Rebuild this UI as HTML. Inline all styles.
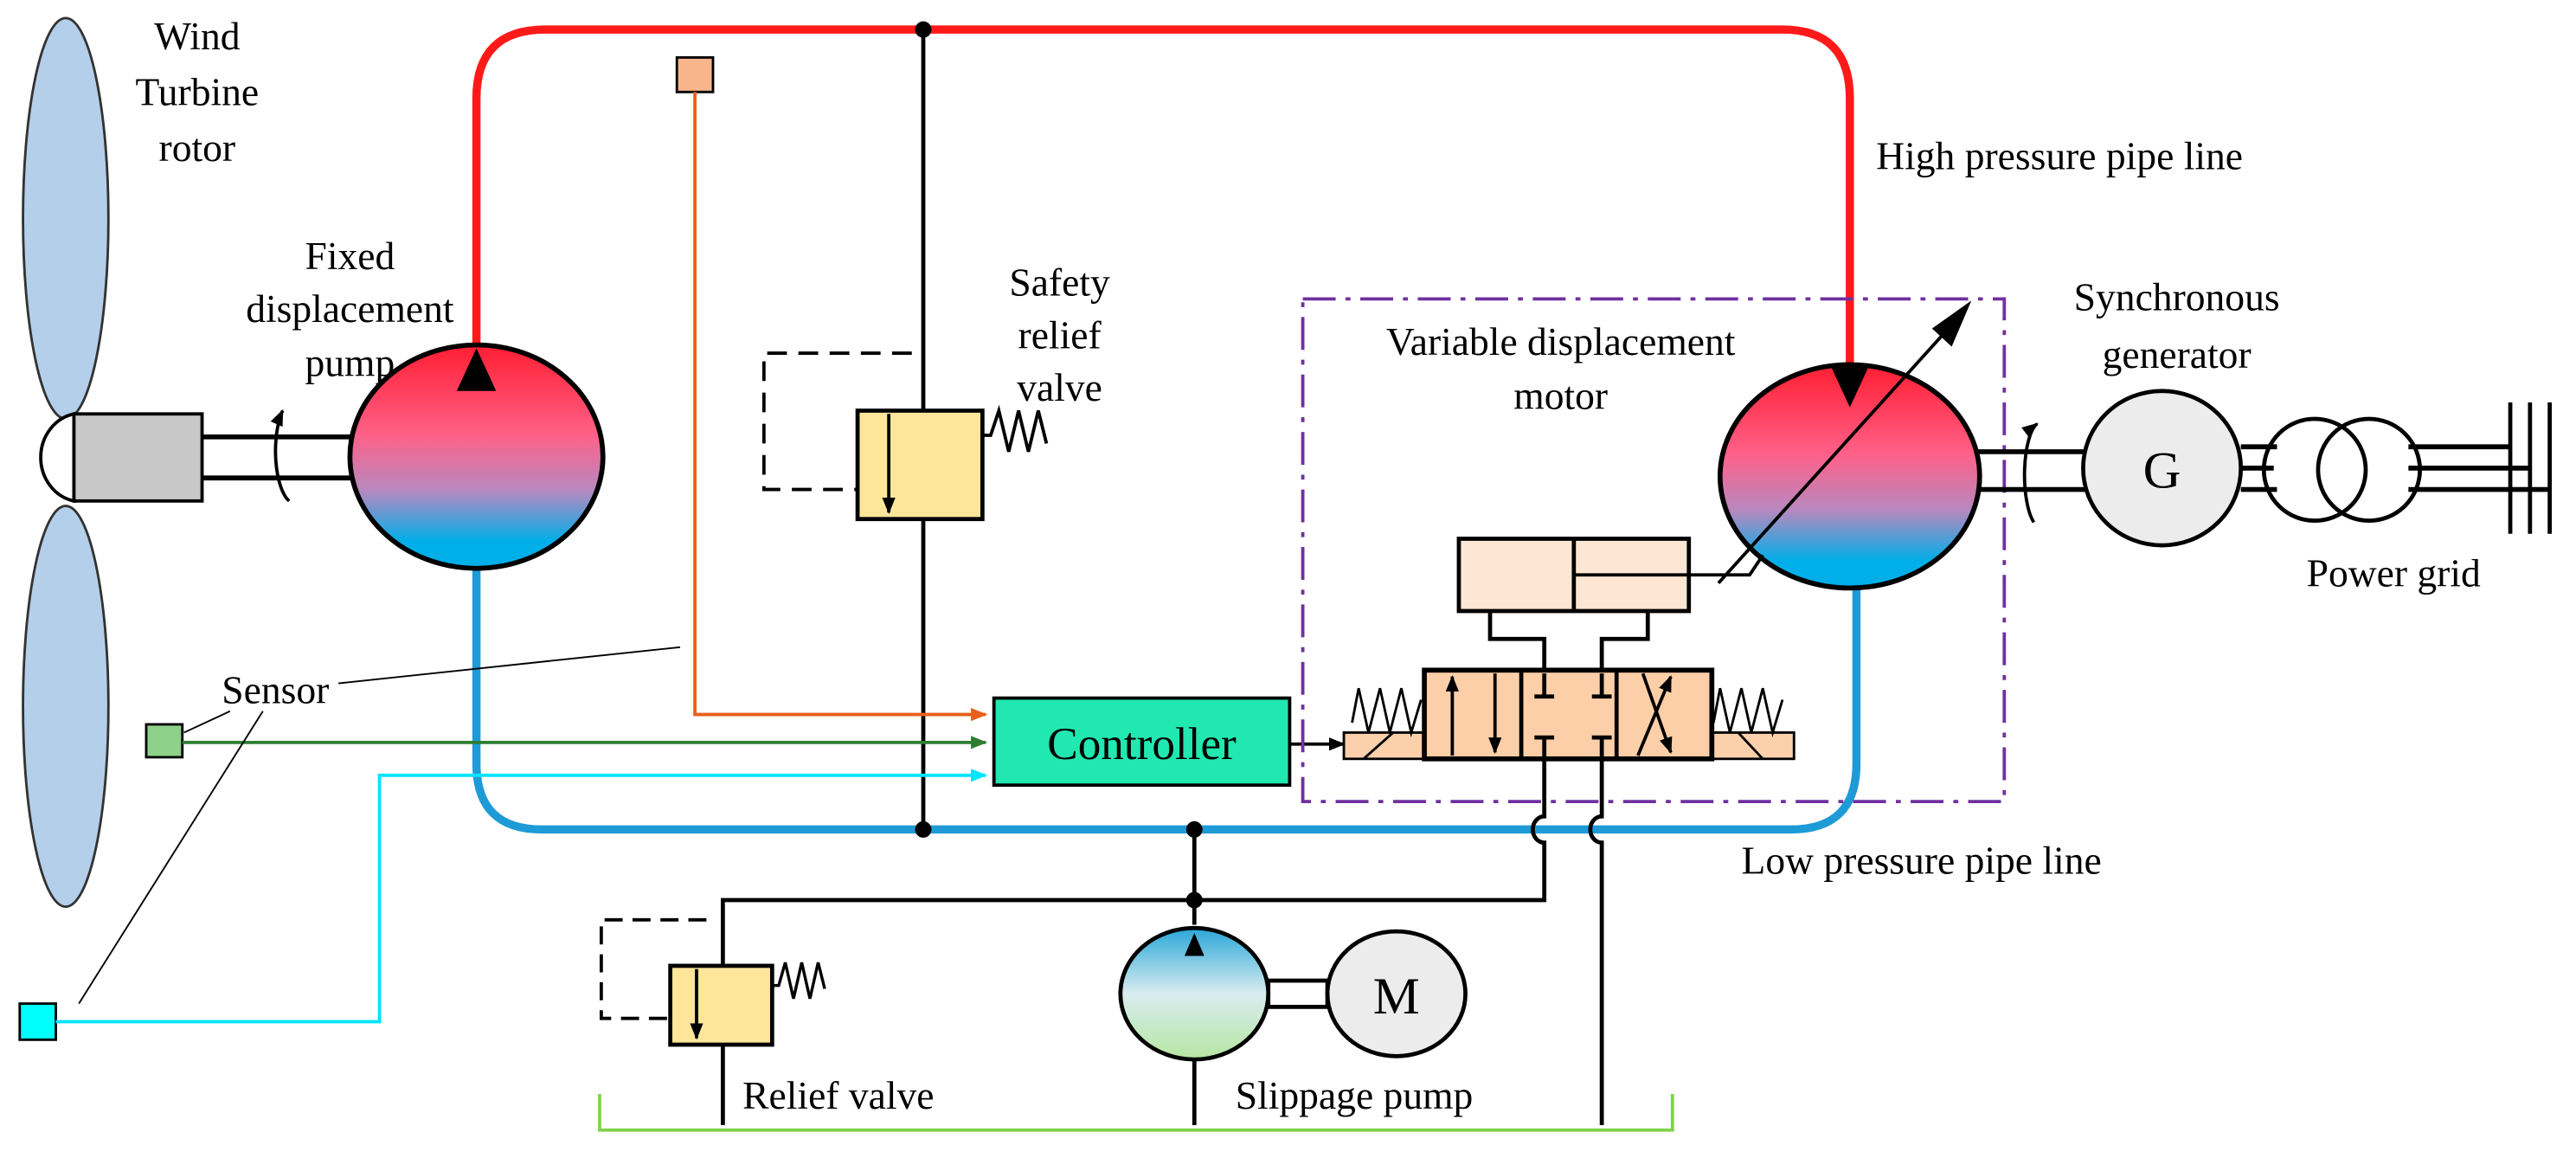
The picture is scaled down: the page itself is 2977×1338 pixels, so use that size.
<!DOCTYPE html>
<html><head><meta charset="utf-8"><style>html,body{margin:0;padding:0;background:#fff}svg{display:block}</style></head>
<body>
<svg width="2977" height="1338" viewBox="0 0 1568 705" preserveAspectRatio="none" xmlns="http://www.w3.org/2000/svg" font-family="Liberation Serif, serif" font-size="24">
<defs>
<linearGradient id="rb" x1="0" y1="0" x2="0" y2="1"><stop offset="0" stop-color="#ff1e32"/><stop offset="0.4" stop-color="#ff6088"/><stop offset="0.65" stop-color="#b888bf"/><stop offset="0.88" stop-color="#00aee8"/></linearGradient>
<linearGradient id="bg" x1="0" y1="0" x2="0" y2="1"><stop offset="0" stop-color="#2aa7d8"/><stop offset="0.5" stop-color="#d8ecf0"/><stop offset="1" stop-color="#b6e6a2"/></linearGradient>
<marker id="ah" markerWidth="10" markerHeight="8" refX="9" refY="4" orient="auto" markerUnits="userSpaceOnUse"><path d="M0,0 L10,4 L0,8z" fill="context-stroke"/></marker>
</defs>
<!-- blades -->
<ellipse cx="40" cy="133" rx="26" ry="122" fill="#b4cfe9" stroke="#333" stroke-width="1.5"/>
<ellipse cx="40" cy="430" rx="26" ry="122" fill="#b4cfe9" stroke="#333" stroke-width="1.5"/>
<path d="M45,252 A25,27 0 0 0 45,305 Z" fill="#fff" stroke="#000" stroke-width="2"/>
<rect x="45" y="252" width="78" height="53" fill="#c8c8c8" stroke="#000" stroke-width="2"/>
<line x1="123" y1="266" x2="214" y2="266" stroke="#000" stroke-width="3"/>
<line x1="123" y1="291" x2="214" y2="291" stroke="#000" stroke-width="3"/>
<path d="M176,305 A12,32 0 0 1 172,250" fill="none" stroke="#000" stroke-width="2" marker-end="url(#ah)"/>
<!-- pipes -->
<path d="M290,212 V60 Q290,18 332,18 H1085 Q1126,18 1126,60 V222" fill="none" stroke="#ff1a1a" stroke-width="5"/>
<path d="M290,345 V465 Q290,505 330,505 H1090 Q1130,505 1130,465 V355" fill="none" stroke="#1e9bd7" stroke-width="5"/>
<!-- pump -->
<ellipse cx="290" cy="278" rx="77" ry="68" fill="url(#rb)" stroke="#000" stroke-width="3"/>
<path d="M290,212 L278,238 L302,238Z" fill="#000"/>
<!-- safety relief -->
<line x1="562" y1="18" x2="562" y2="505" stroke="#000" stroke-width="2.5"/>
<rect x="522" y="250" width="76" height="66" fill="#fde59a" stroke="#000" stroke-width="2.5"/>
<line x1="541" y1="252" x2="541" y2="312" stroke="#000" stroke-width="2" marker-end="url(#ah)"/>
<path d="M598,265 l5,0 5,-15 6,25 6,-25 6,25 6,-25 5,20" fill="none" stroke="#000" stroke-width="2"/>
<path d="M555,215 H465 V298 H522" fill="none" stroke="#000" stroke-width="2" stroke-dasharray="12,7"/>
<!-- sensors -->
<rect x="412" y="35" width="22" height="21" fill="#f8b48a" stroke="#000" stroke-width="1.5"/>
<path d="M423,56 V435 H600" fill="none" stroke="#e8601c" stroke-width="2" marker-end="url(#ah)"/>
<rect x="89" y="441" width="22" height="20" fill="#8fd18a" stroke="#000" stroke-width="1.5"/>
<line x1="111" y1="452" x2="600" y2="452" stroke="#2e7d32" stroke-width="2" marker-end="url(#ah)"/>
<rect x="12" y="611" width="22" height="22" fill="#00ffff" stroke="#000" stroke-width="1.5"/>
<path d="M34,622 H231 V472 H600" fill="none" stroke="#00e5ff" stroke-width="2" marker-end="url(#ah)"/>
<text x="135" y="428">Sensor</text>
<line x1="206" y1="416" x2="414" y2="394" stroke="#000" stroke-width="1"/>
<line x1="112" y1="446" x2="140" y2="433" stroke="#000" stroke-width="1"/>
<line x1="160" y1="433" x2="48" y2="611" stroke="#000" stroke-width="1"/>
<rect x="605" y="425" width="180" height="53" fill="#20e8b0" stroke="#000" stroke-width="2"/>
<text x="695" y="462" font-size="28" text-anchor="middle">Controller</text>
<line x1="785" y1="453" x2="818" y2="453" stroke="#000" stroke-width="2" marker-end="url(#ah)"/>
<!-- purple box -->
<rect x="793" y="182" width="427" height="306" fill="none" stroke="#7030a0" stroke-width="2" stroke-dasharray="20,6,3,6"/>
<!-- motor -->
<ellipse cx="1126" cy="290" rx="79" ry="68" fill="url(#rb)" stroke="#000" stroke-width="3"/>
<path d="M1114,222 L1126,248 L1138,222Z" fill="#000"/>
<line x1="1046" y1="355" x2="1195" y2="190" stroke="#000" stroke-width="2"/>
<path d="M1200,183 L1176,200 L1188,211Z" fill="#000"/>
<!-- cylinder -->
<rect x="888" y="328" width="140" height="44" fill="#fee6d4" stroke="#000" stroke-width="2.5"/>
<line x1="958" y1="328" x2="958" y2="372" stroke="#000" stroke-width="2.5"/>
<path d="M958,350 H1065 L1073,338" fill="none" stroke="#000" stroke-width="2"/>
<path d="M907,372 V389 H940 V408 M1003,372 V389 H975 V408" fill="none" stroke="#000" stroke-width="2.5"/>
<!-- valve -->
<rect x="818" y="446" width="49" height="16" fill="#fdd0ac" stroke="#000" stroke-width="1.5"/>
<rect x="1042" y="446" width="50" height="16" fill="#fdd0ac" stroke="#000" stroke-width="1.5"/>
<line x1="830" y1="462" x2="848" y2="446" stroke="#000" stroke-width="1.5"/>
<line x1="1058" y1="446" x2="1073" y2="462" stroke="#000" stroke-width="1.5"/>
<path d="M823,440 l4,-21 6,27 7,-27 6,27 7,-27 6,27 6,-20" fill="none" stroke="#000" stroke-width="1.5"/>
<path d="M1043,440 l4,-21 6,27 7,-27 6,27 7,-27 6,27 6,-20" fill="none" stroke="#000" stroke-width="1.5"/>
<rect x="867" y="408" width="175" height="54" fill="#fdcfa9" stroke="#000" stroke-width="3"/>
<line x1="926" y1="408" x2="926" y2="462" stroke="#000" stroke-width="2.5"/>
<line x1="984" y1="408" x2="984" y2="462" stroke="#000" stroke-width="2.5"/>
<line x1="884" y1="460" x2="884" y2="412" stroke="#000" stroke-width="2" marker-end="url(#ah)"/>
<line x1="910" y1="410" x2="910" y2="458" stroke="#000" stroke-width="2" marker-end="url(#ah)"/>
<line x1="997" y1="460" x2="1017" y2="412" stroke="#000" stroke-width="2" marker-end="url(#ah)"/>
<line x1="1000" y1="410" x2="1017" y2="458" stroke="#000" stroke-width="2" marker-end="url(#ah)"/>
<path d="M940,410 V424 M934,424 H946 M975,410 V424 M969,424 H981 M940,462 V449 M934,449 H946 M975,462 V449 M969,449 H981" stroke="#000" stroke-width="2.5"/>
<!-- lower lines -->
<path d="M940,462 V497 A7,8 0 0 0 940,513 V548 H440 V588" fill="none" stroke="#000" stroke-width="2.5"/>
<path d="M975,462 V497 A7,8 0 0 0 975,513 V685" fill="none" stroke="#000" stroke-width="2.5"/>
<line x1="727" y1="505" x2="727" y2="563" stroke="#000" stroke-width="2.5"/>
<line x1="727" y1="645" x2="727" y2="685" stroke="#000" stroke-width="2.5"/>
<line x1="440" y1="636" x2="440" y2="685" stroke="#000" stroke-width="2.5"/>
<circle cx="562" cy="18" r="5" fill="#000"/><circle cx="562" cy="505" r="5" fill="#000"/>
<circle cx="727" cy="505" r="5" fill="#000"/><circle cx="727" cy="548" r="5" fill="#000"/>
<!-- relief valve -->
<rect x="408" y="588" width="62" height="48" fill="#fde59a" stroke="#000" stroke-width="2.5"/>
<line x1="424" y1="590" x2="424" y2="632" stroke="#000" stroke-width="2" marker-end="url(#ah)"/>
<path d="M470,600 l4,0 4,-14 5,22 5,-22 5,22 5,-22 4,16" fill="none" stroke="#000" stroke-width="1.8"/>
<path d="M430,560 H366 V620 H408" fill="none" stroke="#000" stroke-width="2" stroke-dasharray="11,6"/>
<!-- slippage pump -->
<rect x="772" y="597" width="36" height="16" fill="#fff" stroke="#000" stroke-width="2.5"/>
<ellipse cx="727" cy="605" rx="45" ry="40" fill="url(#bg)" stroke="#000" stroke-width="2.5"/>
<path d="M727,568 L721,582 L733,582Z" fill="#000"/>
<ellipse cx="850" cy="605" rx="42" ry="38" fill="#ececec" stroke="#000" stroke-width="2.5"/>
<text x="850" y="617" font-size="32" text-anchor="middle">M</text>
<path d="M365,666 V688 H1018 V666" fill="none" stroke="#7dd34a" stroke-width="2"/>
<!-- generator side -->
<line x1="1204" y1="275" x2="1270" y2="275" stroke="#000" stroke-width="3"/>
<line x1="1204" y1="298" x2="1270" y2="298" stroke="#000" stroke-width="3"/>
<path d="M1238,318 A10,32 0 0 1 1240,258" fill="none" stroke="#000" stroke-width="2" marker-end="url(#ah)"/>
<ellipse cx="1316" cy="285" rx="48" ry="47" fill="#ececec" stroke="#000" stroke-width="2.5"/>
<text x="1316" y="297" font-size="32" text-anchor="middle">G</text>
<path d="M1364,272 H1386 M1364,285 H1384 M1364,298 H1386 M1466,272 H1475 M1466,285 H1540 M1466,298 H1552 M1475,272 H1528" stroke="#000" stroke-width="3"/>
<circle cx="1409" cy="286" r="31" fill="none" stroke="#000" stroke-width="2.5"/>
<circle cx="1442" cy="286" r="31" fill="none" stroke="#000" stroke-width="2.5"/>
<path d="M1528,245 V325 M1540,245 V325 M1552,245 V325" stroke="#000" stroke-width="2.5"/>
<!-- labels -->
<g text-anchor="middle">
<text x="120" y="30">Wind</text><text x="120" y="64">Turbine</text><text x="120" y="98">rotor</text>
<text x="213" y="164">Fixed</text><text x="213" y="196">displacement</text><text x="213" y="229">pump</text>
<text x="645" y="180">Safety</text><text x="645" y="212">relief</text><text x="645" y="244">valve</text>
<text x="950" y="216">Variable displacement</text><text x="950" y="249">motor</text>
<text x="1325" y="189">Synchronous</text><text x="1325" y="224">generator</text>
</g>
<text x="1142" y="103">High pressure pipe line</text>
<text x="1404" y="357">Power grid</text>
<text x="1060" y="532">Low pressure pipe line</text>
<text x="452" y="675">Relief valve</text>
<text x="752" y="675">Slippage pump</text>
</svg>
</body></html>
